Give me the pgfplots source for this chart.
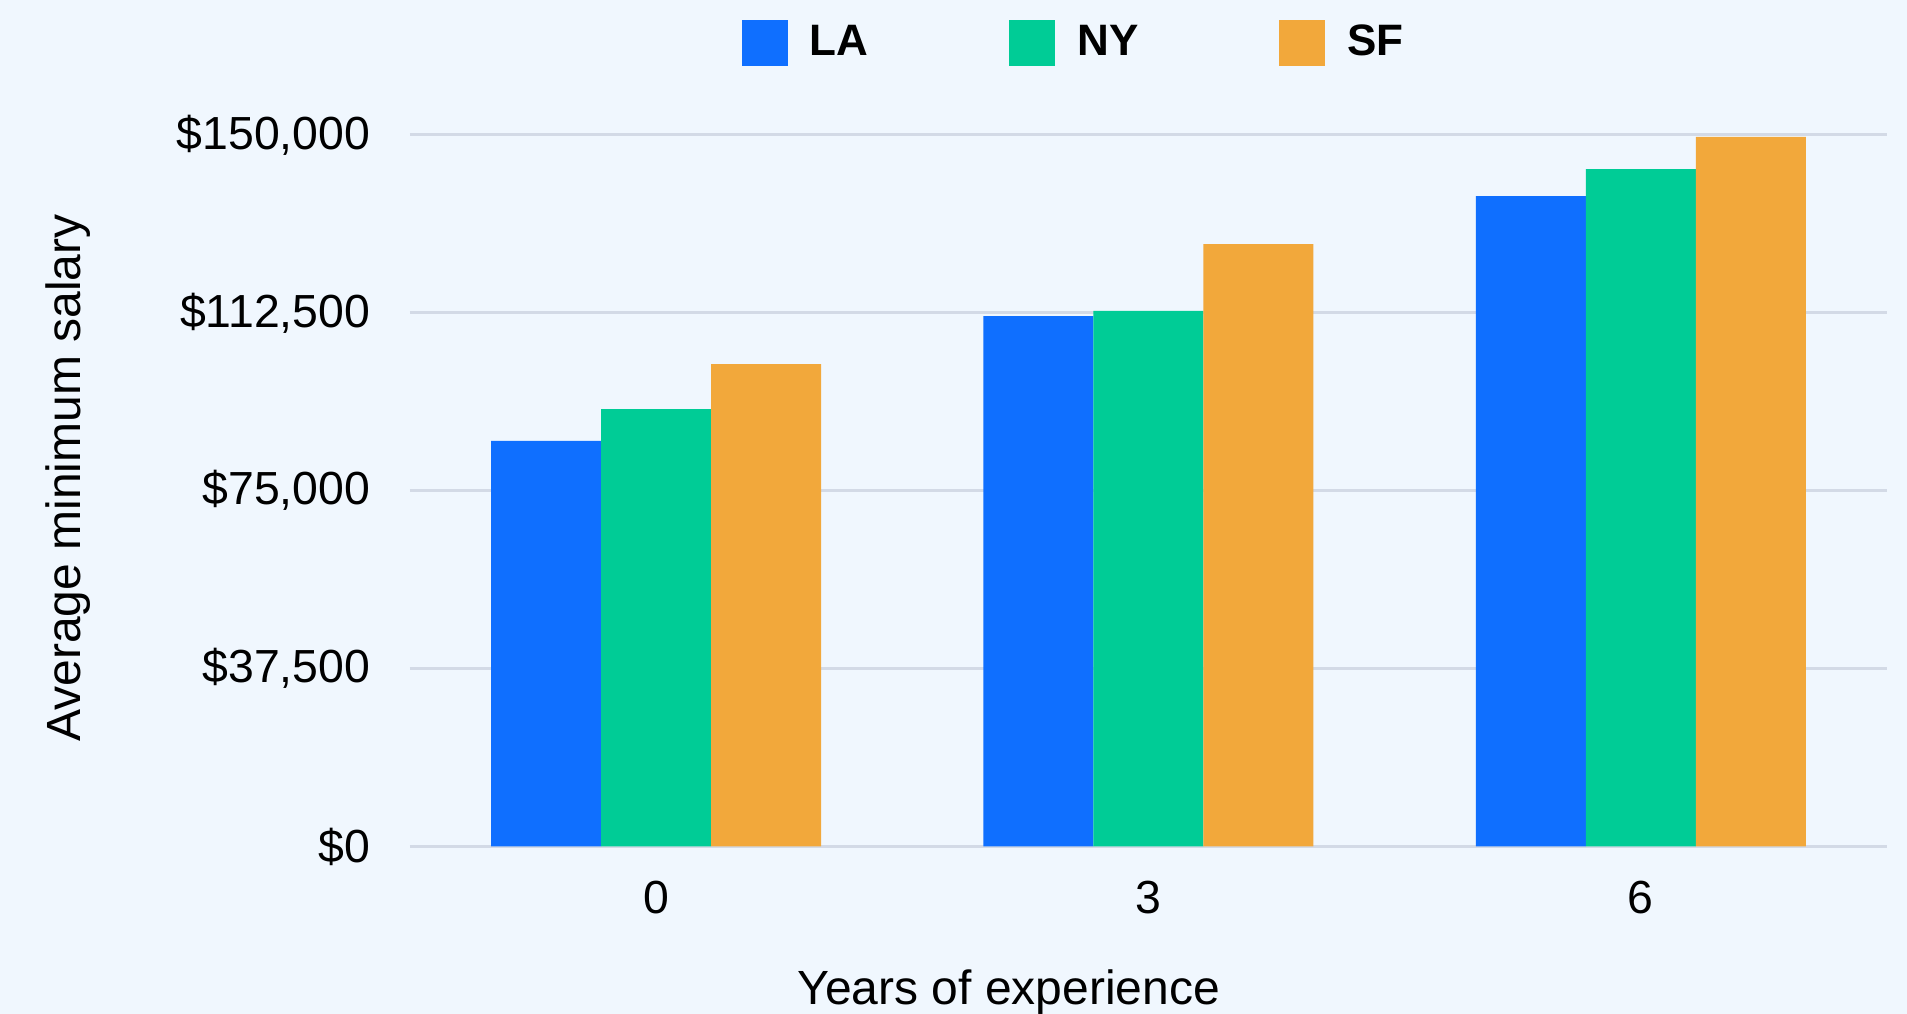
\documentclass[border=0pt]{standalone}
\usepackage{pgfplots}
\pgfplotsset{compat=1.18}
\usepackage{fontspec}
\setmainfont{Liberation Sans}
\definecolor{bg}{HTML}{F0F7FE}
\definecolor{gridc}{HTML}{D3DAE6}
\definecolor{cLA}{HTML}{0F6FFF}
\definecolor{cNY}{HTML}{00CC96}
\definecolor{cSF}{HTML}{F2A83B}
\begin{document}
\begin{tikzpicture}
\fill[bg] (-102.5pt,-41.875pt) rectangle (374.25pt,211.625pt);
\begin{axis}[
  at={(0pt,0pt)}, anchor=south west,
  scale only axis,
  width=369.25pt, height=177.875pt,
  xmin=-0.5, xmax=2.5, ymin=0, ymax=150000,
  axis lines*=left,
  axis line style={draw=none},
  ybar=0pt, bar width=27.5pt,
  xtick={0,1,2}, xticklabels={0,3,6},
  ytick={0,37500,75000,112500,150000},
  yticklabels={{\$0},{\$37,500},{\$75,000},{\$112,500},{\$150,000}},
  scaled y ticks=false,
  major tick length=0pt,
  tick style={draw=none},
  ymajorgrids=true,
  grid style={draw=gridc, line width=0.75pt},
  tick label style={font=\fontsize{11.6}{13}\selectfont},
  yticklabel style={xshift=-6.4pt},
  xticklabel style={yshift=-5.1pt},
  xlabel={Years of experience},
  ylabel={Average minimum salary},
  label style={font=\fontsize{12}{14}\selectfont},
  xlabel style={at={(axis description cs:0.4054,-0.2046)}, anchor=center},
  ylabel style={at={(axis description cs:-0.2312,0.518)}, anchor=center},
  legend columns=3,
  legend style={at={(axis description cs:0.2241,1.1293)}, anchor=west,
    draw=none, fill=none, inner sep=0pt,
    font=\bfseries\fontsize{11}{13}\selectfont,
    nodes={inner sep=2pt},
    /tikz/every odd column/.append style={column sep=3.5pt},
    /tikz/every even column/.append style={column sep=33.2pt}},
  sq/.style={draw=none, legend image code/.code={\fill[##1] (0pt,-5.75pt) rectangle (11.5pt,5.75pt);}},
]
\addplot[fill=cLA, sq] coordinates {(0,85500) (1,111800) (2,137100)};
\addplot[fill=cNY, sq] coordinates {(0,92200) (1,112900) (2,142800)};
\addplot[fill=cSF, sq] coordinates {(0,101700) (1,127000) (2,149600)};
\legend{LA,NY,SF}
\end{axis}
\pgfresetboundingbox
\useasboundingbox (-102.5pt,-41.875pt) rectangle (374.25pt,211.625pt);
\end{tikzpicture}
\end{document}
